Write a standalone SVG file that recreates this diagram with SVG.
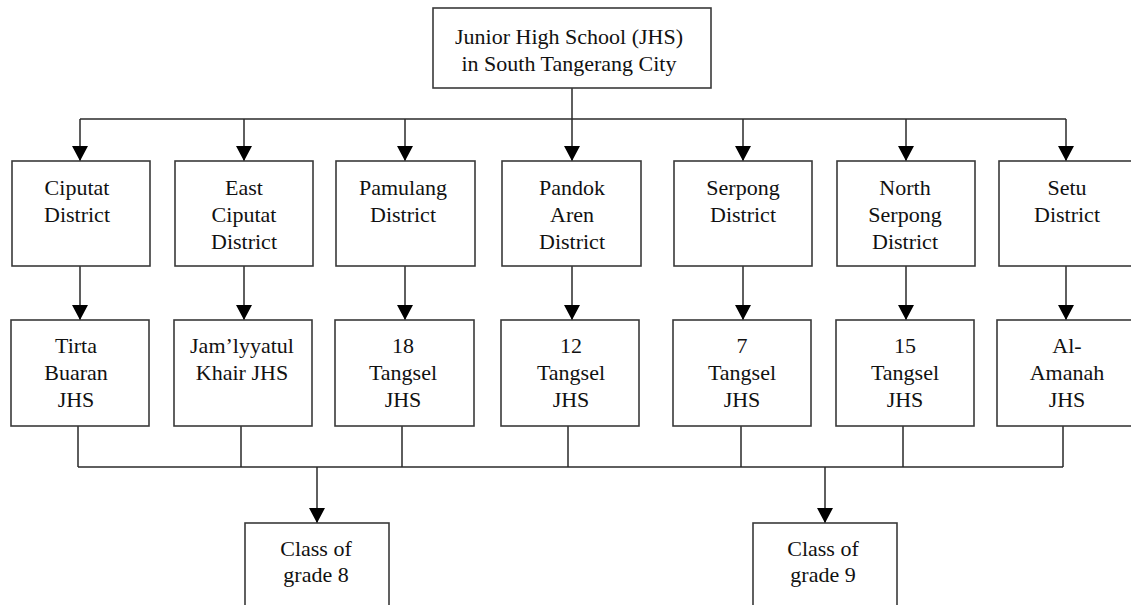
<svg xmlns="http://www.w3.org/2000/svg" width="1131" height="605" viewBox="0 0 1131 605">
<defs>
<style>
.box{fill:#fff;stroke:#3a3a3a;stroke-width:1.6}
.ln{fill:none;stroke:#2a2a2a;stroke-width:1.5}
text{font-family:'Liberation Serif','Times New Roman',Times,'DejaVu Serif',serif;font-size:22px;fill:#111;text-anchor:middle}
</style>
<marker id="ah" markerUnits="userSpaceOnUse" markerWidth="18" markerHeight="16" refX="15" refY="8" orient="auto" viewBox="0 0 15 16">
<path d="M0,0 L15,8 L0,16 Z" fill="#000"/>
</marker>
</defs>
<rect width="1131" height="605" fill="#fff"/>

<g id="connectors">
<path class="ln" d="M572,88 V119"/>
<path class="ln" d="M80,119 H1066"/>
<path class="ln" d="M80,119 V161" marker-end="url(#ah)"/>
<path class="ln" d="M244,119 V161" marker-end="url(#ah)"/>
<path class="ln" d="M405,119 V161" marker-end="url(#ah)"/>
<path class="ln" d="M572,119 V161" marker-end="url(#ah)"/>
<path class="ln" d="M743,119 V161" marker-end="url(#ah)"/>
<path class="ln" d="M906,119 V161" marker-end="url(#ah)"/>
<path class="ln" d="M1066,119 V161" marker-end="url(#ah)"/>
<path class="ln" d="M80,266 V320" marker-end="url(#ah)"/>
<path class="ln" d="M244,266 V320" marker-end="url(#ah)"/>
<path class="ln" d="M405,266 V320" marker-end="url(#ah)"/>
<path class="ln" d="M572,266 V320" marker-end="url(#ah)"/>
<path class="ln" d="M743,266 V320" marker-end="url(#ah)"/>
<path class="ln" d="M906,266 V320" marker-end="url(#ah)"/>
<path class="ln" d="M1066,266 V320" marker-end="url(#ah)"/>
<path class="ln" d="M78,426 V467 M241,426 V467 M402,426 V467 M568,426 V467 M741,426 V467 M903,426 V467 M1063,426 V467"/>
<path class="ln" d="M78,467 H1063"/>
<path class="ln" d="M317,467 V523" marker-end="url(#ah)"/>
<path class="ln" d="M825,467 V523" marker-end="url(#ah)"/>
</g>

<g id="root" font-family="Liberation Serif, serif">
<rect class="box" x="433" y="8" width="278" height="80"/>
<text x="569" y="44">Junior High School (JHS)</text>
<text x="569" y="71">in South Tangerang City</text>
</g>

<g id="d-ciputat">
<rect class="box" x="12" y="161" width="138" height="105"/>
<text x="77" y="195">Ciputat</text>
<text x="77" y="222">District</text>
</g>
<g id="d-east-ciputat">
<rect class="box" x="175" y="161" width="138" height="105"/>
<text x="244" y="195">East</text>
<text x="244" y="222">Ciputat</text>
<text x="244" y="249">District</text>
</g>
<g id="d-pamulang">
<rect class="box" x="336" y="161" width="139" height="105"/>
<text x="403" y="195">Pamulang</text>
<text x="403" y="222">District</text>
</g>
<g id="d-pandok">
<rect class="box" x="502" y="161" width="139" height="105"/>
<text x="572" y="195">Pandok</text>
<text x="572" y="222">Aren</text>
<text x="572" y="249">District</text>
</g>
<g id="d-serpong">
<rect class="box" x="674" y="161" width="138" height="105"/>
<text x="743" y="195">Serpong</text>
<text x="743" y="222">District</text>
</g>
<g id="d-north-serpong">
<rect class="box" x="837" y="161" width="138" height="105"/>
<text x="905" y="195">North</text>
<text x="905" y="222">Serpong</text>
<text x="905" y="249">District</text>
</g>
<g id="d-setu">
<rect class="box" x="999" y="161" width="140" height="105"/>
<text x="1067" y="195">Setu</text>
<text x="1067" y="222">District</text>
</g>

<g id="s-tirta">
<rect class="box" x="11" y="320" width="138" height="106"/>
<text x="76" y="353">Tirta</text>
<text x="76" y="380">Buaran</text>
<text x="76" y="407">JHS</text>
</g>
<g id="s-jamiyyatul">
<rect class="box" x="174" y="320" width="138" height="106"/>
<text x="242" y="353">Jam’lyyatul</text>
<text x="242" y="380">Khair JHS</text>
</g>
<g id="s-18">
<rect class="box" x="335" y="320" width="139" height="106"/>
<text x="403" y="353">18</text>
<text x="403" y="380">Tangsel</text>
<text x="403" y="407">JHS</text>
</g>
<g id="s-12">
<rect class="box" x="501" y="320" width="138" height="106"/>
<text x="571" y="353">12</text>
<text x="571" y="380">Tangsel</text>
<text x="571" y="407">JHS</text>
</g>
<g id="s-7">
<rect class="box" x="673" y="320" width="138" height="106"/>
<text x="742" y="353">7</text>
<text x="742" y="380">Tangsel</text>
<text x="742" y="407">JHS</text>
</g>
<g id="s-15">
<rect class="box" x="836" y="320" width="138" height="106"/>
<text x="905" y="353">15</text>
<text x="905" y="380">Tangsel</text>
<text x="905" y="407">JHS</text>
</g>
<g id="s-alamanah">
<rect class="box" x="997" y="320" width="142" height="106"/>
<text x="1067" y="353">Al-</text>
<text x="1067" y="380">Amanah</text>
<text x="1067" y="407">JHS</text>
</g>

<g id="c-grade8">
<rect class="box" x="245" y="523" width="144" height="100"/>
<text x="316" y="556">Class of</text>
<text x="316" y="582">grade 8</text>
</g>
<g id="c-grade9">
<rect class="box" x="753" y="523" width="144" height="100"/>
<text x="823" y="556">Class of</text>
<text x="823" y="582">grade 9</text>
</g>
</svg>
